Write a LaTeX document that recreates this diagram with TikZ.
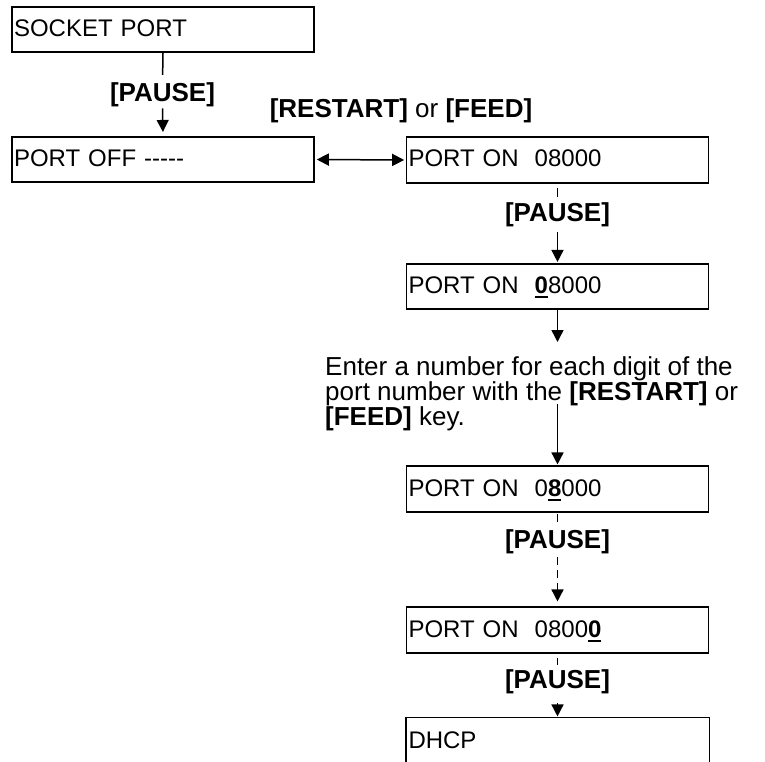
\documentclass[tikz,border=0pt]{standalone}
\usepackage{fontspec}
\setmainfont{Liberation Sans}
\usetikzlibrary{arrows.meta}
\newcommand\ulbf[1]{\setbox0=\hbox{\bfseries #1}\rlap{\rule[-4.5pt]{\wd0}{2pt}}\box0\relax}
\newcommand\tightlines{\lineskiplimit=-30pt\relax\lineskip=0pt\relax}
\tikzset{
  box/.style={draw, line width=1.6pt, minimum width=302pt, minimum height=45.5pt,
    inner sep=0pt, text width=298pt, align=left,
    font=\fontsize{24}{28}\selectfont, text height=17pt, text depth=3pt},
  lab/.style={font=\fontsize{26}{28}\selectfont\bfseries, inner sep=0pt,
    text height=19pt, text depth=5.5pt},
  conn/.style={line width=1.5pt},
  arr/.style={conn, -{Triangle[width=12pt,length=12pt]}},
  dashconn/.style={conn, dash pattern=on 8pt off 5pt},
}
\begin{document}
\begin{tikzpicture}[x=1pt,y=-1pt]
\useasboundingbox (0,0) rectangle (765,762);
% boxes
\node[box] (A) at (163,29.5) {SOCKET PORT};
\node[box] (B) at (163,159.5) {PORT OFF {-}{-}{-}{-}{-}};
\node[box] (C) at (557.5,160) {PORT ON\ \ 08000};
\node[box] (D) at (557.5,286.5) {PORT ON\ \ \ulbf{0}8000};
\node[box] (E) at (557.5,489) {PORT ON\ \ 0\ulbf{8}000};
\node[box] (F) at (557.5,630) {PORT ON\ \ 0800\ulbf{0}};
\node[box, draw=none] (G) at (557.5,741) {DHCP};
\draw[line width=1.6pt] (G.south west) -- (G.north west) -- (G.north east) -- (G.south east);
% labels
\node[lab] (L1) at (162.5,95) {[PAUSE]};
\node[lab] (L2) at (557.5,215) {[PAUSE]};
\node[lab] (L4) at (557.5,541.5) {[PAUSE]};
\node[lab] (L5) at (557.5,682) {[PAUSE]};
\node[lab] (LR) at (401,111) {[RESTART] {\mdseries or} [FEED]};
\node[anchor=north west, inner sep=0pt, align=left,
  font=\fontsize{26}{23}\selectfont] (P) at (325,356)
  {\tightlines Enter a number for each digit of the\\
   port number with the \textbf{[RESTART]} or\\
   \textbf{[FEED]} key.};
\coordinate (P1) at (557.5,342);
\coordinate (P2) at (557.5,404);
% connectors
\draw[conn, shorten >=7.75pt] (A.south) -- (L1.north);
\draw[arr, shorten <=1pt, shorten >=4pt] (L1.south) -- (B.north);
\draw[conn, {Triangle[width=12pt,length=12pt]}-{Triangle[width=12pt,length=12pt]}, shorten <=2pt, shorten >=1.5pt] (B.east) -- (C.west);
\draw[conn, shorten <=4pt, shorten >=6pt] (C.south) -- (L2.north);
\draw[arr, shorten <=5pt, shorten >=1pt] (L2.south) -- (D.north);
\draw[arr] (D.south) -- (P1);
\draw[arr, shorten >=1pt] (P2) -- (E.north);
\draw[conn, shorten <=1pt, shorten >=7pt] (E.south) -- (L4.north);
\draw[dashconn, -{Triangle[width=12pt,length=12pt]}, shorten <=3pt, shorten >=5pt] (L4.south) -- (F.north);
\draw[conn, shorten <=4pt, shorten >=5pt] (F.south) -- (L5.north);
\draw[arr, shorten <=9pt, shorten >=1pt] (L5.south) -- (G.north);
\end{tikzpicture}
\end{document}
